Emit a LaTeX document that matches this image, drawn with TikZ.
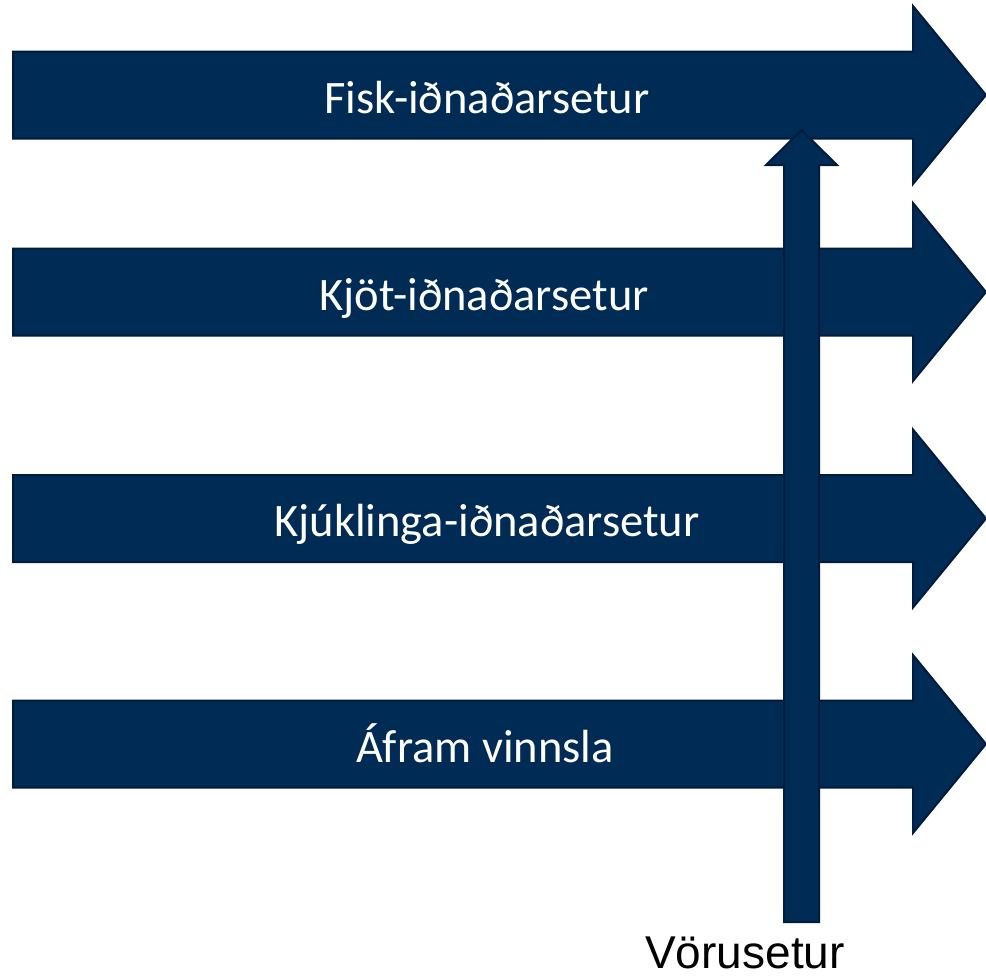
\documentclass[tikz,border=0pt]{standalone}
\usepackage{fontspec}
\setmainfont{Carlito}
\newfontfamily\arialfont{Liberation Sans}
\definecolor{navy}{HTML}{002B55}
\definecolor{navyedge}{HTML}{001C3C}
\tikzset{
  arrowshape/.style={fill=navy,draw=navyedge,line width=2pt,line join=miter},
  bandlabel/.style={text=white,font=\fontsize{46.5}{52}\selectfont,anchor=base,inner sep=0pt},
}
\newcommand{\myharrow}[1]{%
  \path[arrowshape] (13,{-#1+43.5}) -- (913,{-#1+43.5}) -- (913,{-#1+89}) -- (986,-#1)
    -- (913,{-#1-89}) -- (913,{-#1-43.5}) -- (13,{-#1-43.5}) -- cycle;}
\begin{document}
\begin{tikzpicture}[x=1pt,y=1pt]
\useasboundingbox (0,0) rectangle (986,-980);
\myharrow{95}
\myharrow{292}
\myharrow{518.5}
\myharrow{744}
\node[bandlabel] (fisk) at (487,-113) {Fisk-iðnaðarsetur};
\node[bandlabel] (kjot) at (484,-310) {Kjöt-iðnaðarsetur};
\node[bandlabel] (kjuk) at (487,-536.5) {Kjúklinga-iðnaðarsetur};
\node[bandlabel] (afram) at (485,-762) {Áfram vinnsla};
% vertical arrow
\path[arrowshape] (784,-922) -- (784,-165) -- (766,-165) -- (801.5,-130) -- (837,-165)
  -- (819,-165) -- (819,-922) -- cycle;
\node[font=\arialfont\fontsize{46}{52}\selectfont,anchor=base,inner sep=0pt] (voru) at (745,-968) {Vörusetur};
\end{tikzpicture}
\end{document}
